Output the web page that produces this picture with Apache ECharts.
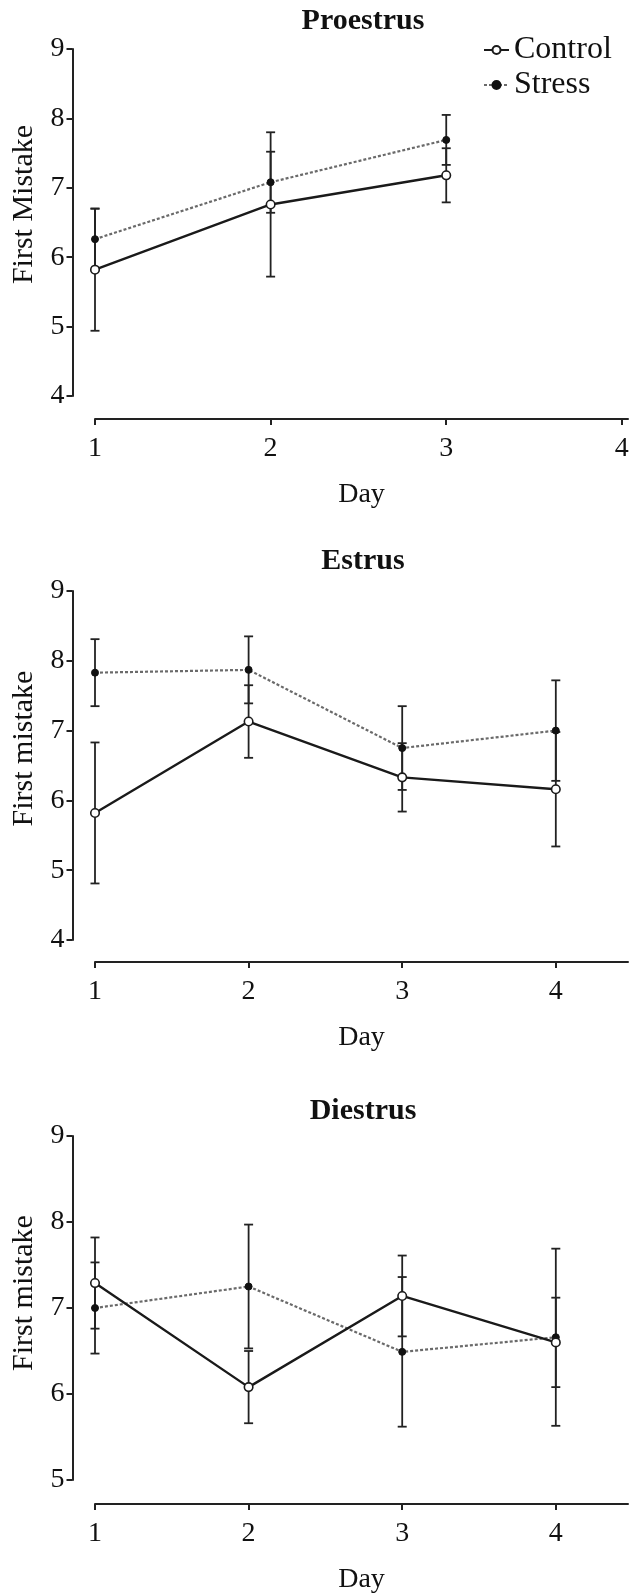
<!DOCTYPE html>
<html>
<head>
<meta charset="utf-8">
<script src="https://cdn.jsdelivr.net/npm/echarts@6/dist/echarts.min.js"></script>
<style>
  html, body { margin: 0; padding: 0; background: #fff; }
  #chart { width: 635px; height: 1595px; }
</style>
</head>
<body>
<div id="chart"></div>
<script>
var days = [1, 2, 3, 4];

// Proestrus (only days 1-3 measured)
var proControl = [5.82, 6.76, 7.18];
var proControlErr = [0.88, 1.04, 0.39];
var proStress = [6.26, 7.08, 7.69];
var proStressErr = [0.44, 0.44, 0.36];

// Estrus
var estControl = [5.82, 7.13, 6.33, 6.16];
var estControlErr = [1.01, 0.52, 0.49, 0.82];
var estStress = [7.83, 7.87, 6.75, 7.00];
var estStressErr = [0.48, 0.48, 0.60, 0.72];

// Diestrus
var dieControl = [7.29, 6.08, 7.14, 6.60];
var dieControlErr = [0.53, 0.42, 0.47, 0.52];
var dieStress = [7.00, 7.25, 6.49, 6.66];
var dieStressErr = [0.53, 0.72, 0.87, 1.03];

var titles = ['Proestrus', 'Estrus', 'Diestrus'];
var yNames = ['First Mistake', 'First mistake', 'First mistake'];
var yMins = [4, 4, 5];
var xMaxs = [4.035, 4.47, 4.47];

var FONT = "'Liberation Serif', 'DejaVu Serif', serif";
var INK = '#222';

// panel geometry (grid = plotting rect)
var gridTops = [49, 591, 1136];
var gridHeights = [347, 349, 348];
var xOffsets = [23, 22, 24];
var titleTops = [1, 541, 1091];
var yNameShift = [36, 34, 30];  // y-axis titles sit a bit above the axis middle

function pts(vals) {
  return vals.map(function (v, i) { return [days[i], v]; });
}
function errs(vals, e) {
  return vals.map(function (v, i) { return [days[i], v - e[i], v + e[i]]; });
}

function renderErr(params, api) {
  var x = api.value(0);
  var top = api.coord([x, api.value(2)]);
  var bot = api.coord([x, api.value(1)]);
  var w = 4.5;
  var st = { stroke: INK, lineWidth: 1.8 };
  return {
    type: 'group',
    children: [
      { type: 'line', shape: { x1: top[0], y1: top[1], x2: bot[0], y2: bot[1] }, style: st },
      { type: 'line', shape: { x1: top[0] - w, y1: top[1], x2: top[0] + w, y2: top[1] }, style: st },
      { type: 'line', shape: { x1: bot[0] - w, y1: bot[1], x2: bot[0] + w, y2: bot[1] }, style: st }
    ]
  };
}

var panels = [
  [proControl, proControlErr, proStress, proStressErr],
  [estControl, estControlErr, estStress, estStressErr],
  [dieControl, dieControlErr, dieStress, dieStressErr]
];

var grid = [], xAxis = [], yAxis = [], series = [], title = [];

panels.forEach(function (p, k) {
  grid.push({ left: 95, width: 533, top: gridTops[k], height: gridHeights[k] });
  title.push({
    text: titles[k],
    left: 358,
    textAlign: 'center',
    top: titleTops[k],
    textStyle: { fontFamily: FONT, fontSize: 30, fontWeight: 'bold', color: '#111' }
  });
  xAxis.push({
    gridIndex: k,
    type: 'value',
    min: 1,
    max: xMaxs[k],
    interval: 1,
    offset: xOffsets[k],
    name: 'Day',
    nameLocation: 'middle',
    nameGap: 62,
    nameTextStyle: { fontFamily: FONT, fontSize: 28, color: '#111' },
    axisLine: { onZero: false, lineStyle: { color: INK, width: 2 } },
    axisTick: { customValues: days, length: 6, lineStyle: { color: INK, width: 2 } },
    axisLabel: { customValues: days, margin: 16, fontFamily: FONT, fontSize: 28, color: '#111' },
    splitLine: { show: false }
  });
  yAxis.push({
    gridIndex: k,
    type: 'value',
    min: yMins[k],
    max: 9,
    interval: 1,
    offset: 22.5,
    name: yNames[k],
    nameLocation: 'middle',
    nameRotate: 90,
    nameGap: 31,
    nameTextStyle: { fontFamily: FONT, fontSize: 30, color: '#111', padding: [0, 0, 0, yNameShift[k]] },
    axisLine: { show: true, onZero: false, lineStyle: { color: INK, width: 2 } },
    axisTick: { show: true, length: 6, lineStyle: { color: INK, width: 2 } },
    axisLabel: { margin: 8, fontFamily: FONT, fontSize: 28, color: '#111' },
    splitLine: { show: false }
  });
  series.push({
    type: 'custom',
    xAxisIndex: k, yAxisIndex: k,
    renderItem: renderErr,
    data: errs(p[0], p[1]),
    z: 1, silent: true
  });
  series.push({
    type: 'custom',
    xAxisIndex: k, yAxisIndex: k,
    renderItem: renderErr,
    data: errs(p[2], p[3]),
    z: 1, silent: true
  });
  series.push({
    name: 'Stress',
    type: 'line',
    xAxisIndex: k, yAxisIndex: k,
    data: pts(p[2]),
    symbol: 'circle',
    symbolSize: 7,
    showAllSymbol: true,
    lineStyle: { color: '#6a6a6a', width: 2.2, type: [3, 2] },
    itemStyle: { color: '#111', borderColor: '#111', borderWidth: 1 },
    z: 3
  });
  series.push({
    name: 'Control',
    type: 'line',
    xAxisIndex: k, yAxisIndex: k,
    data: pts(p[0]),
    symbol: 'circle',
    symbolSize: 8.5,
    showAllSymbol: true,
    lineStyle: { color: '#1a1a1a', width: 2.4 },
    itemStyle: { color: '#fff', borderColor: '#1a1a1a', borderWidth: 1.6 },
    z: 4
  });
});

var myChart = echarts.init(document.getElementById('chart'), null, { renderer: 'canvas' });
myChart.setOption({
  animation: false,
  backgroundColor: '#fff',
  title: title,
  legend: {
    data: ['Control', 'Stress'],
    orient: 'vertical',
    left: 478,
    top: 29,
    itemWidth: 25,
    itemHeight: 10,
    itemGap: 3,
    textStyle: { fontFamily: FONT, fontSize: 32, color: '#111' }
  },
  grid: grid,
  xAxis: xAxis,
  yAxis: yAxis,
  series: series
});
</script>
</body>
</html>
